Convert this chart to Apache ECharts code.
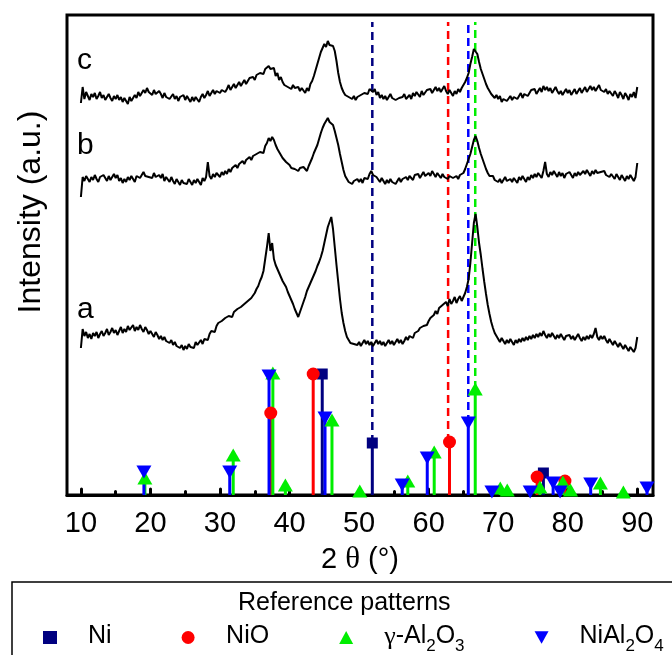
<!DOCTYPE html>
<html><head><meta charset="utf-8">
<script src="https://cdn.jsdelivr.net/npm/echarts@6/dist/echarts.min.js"></script>
<style>html,body{margin:0;padding:0;background:#fff}#c{width:672px;height:655px}</style>
</head><body><div id="c"></div>
<script>
// scan grid (2θ, degrees)
const scanStart = 10, scanStep = 0.25;
// measured intensities (a.u.), one value per 0.25° from 10° to 90° (one row = 5°)
const patternA = [
 147,166,159,163,157,161,156,162,159,163,157,161,164,159,162,166,160,163,167,162,
 165,160,164,168,162,166,163,169,165,167,170,164,168,165,170,166,163,168,165,161,
 164,161,158,163,160,156,159,155,158,154,156,152,155,150,153,149,151,147,150,145,
 149,146,151,148,150,147,153,150,152,155,151,156,158,155,161,164,166,163,169,172,
 170,174,172,177,175,179,181,178,183,181,186,184,188,186,191,189,194,192,197,199,
 202,206,209,214,218,224,236,248,262,244,252,236,230,226,222,218,214,211,208,203,
 199,195,191,186,182,178,183,188,193,198,204,208,212,216,220,224,229,233,238,244,
 252,260,268,273,278,266,248,230,213,196,182,172,164,158,155,152,154,151,153,150,
 153,149,152,155,151,154,150,153,149,152,155,151,154,150,153,149,152,155,151,154,
 150,153,156,152,155,151,154,158,155,159,161,157,162,160,164,167,165,169,171,170,
 174,177,175,180,184,181,187,185,190,188,193,189,196,191,194,198,192,196,199,194,
 198,202,208,216,232,252,272,281,268,252,240,226,213,201,190,181,173,167,162,159,
 156,153,157,154,151,155,152,156,153,150,155,152,156,153,157,154,158,155,159,156,
 160,157,161,158,162,159,164,160,157,161,158,162,159,156,160,157,161,158,155,159,
 157,160,156,159,155,158,161,157,154,158,155,159,156,160,157,161,167,158,155,159,
 156,159,155,152,156,153,150,154,151,148,152,149,146,150,147,144,148,146,143,147,
 158];
const patternB = [
 298,318,314,319,316,313,318,315,320,316,313,318,316,320,317,314,319,315,318,321,
 317,320,314,317,312,316,313,318,315,319,317,313,319,321,317,320,323,319,321,318,
 320,317,322,318,316,320,317,321,314,318,316,313,318,314,311,316,313,310,315,312,
 314,311,316,313,310,315,312,316,313,310,317,314,318,333,319,316,321,318,322,320,
 318,323,320,324,321,326,323,327,325,330,327,331,329,334,331,335,333,338,335,339,
 337,341,339,343,345,342,349,352,357,354,358,355,350,346,343,340,337,335,333,331,
 330,327,329,326,328,324,327,325,328,326,324,329,333,337,342,346,350,356,362,367,
 371,374,377,373,374,370,364,357,350,341,333,325,319,316,313,315,311,314,312,316,
 313,316,312,317,319,316,321,324,320,322,318,316,313,317,314,311,315,312,316,313,
 315,311,314,317,313,316,314,318,315,319,317,315,320,318,321,317,320,323,319,321,
 322,319,324,321,318,322,320,317,321,318,320,316,319,321,317,315,319,316,320,318,
 322,326,331,336,341,348,355,359,354,347,341,336,331,326,322,319,317,319,315,317,
 313,316,312,315,318,314,312,316,313,317,315,312,318,315,319,316,313,318,315,320,
 317,321,318,322,320,317,324,333,321,318,323,320,324,321,318,323,319,322,317,321,
 319,323,320,317,322,319,323,320,318,324,321,325,322,319,324,321,325,322,320,323,
 321,324,320,322,318,321,319,316,321,318,315,320,317,314,319,316,320,317,314,318,
 332];
const patternC = [
 392,408,396,403,399,395,401,398,402,396,399,403,397,400,395,398,401,397,394,399,
 396,400,395,398,393,397,395,391,398,394,396,400,397,403,399,401,405,402,407,403,
 404,400,405,401,399,404,401,397,402,398,400,396,398,401,396,399,394,398,396,400,
 395,399,397,393,398,394,398,396,393,398,401,397,400,404,399,402,405,401,404,406,
 402,405,407,403,406,410,405,408,411,407,410,413,409,412,415,411,414,417,416,418,
 415,420,418,422,423,421,426,424,429,426,424,427,419,422,415,418,413,410,412,408,
 409,406,410,407,405,408,404,407,405,402,407,404,411,414,419,425,431,437,443,447,
 451,448,454,450,452,449,444,434,422,413,407,403,400,402,398,400,396,399,395,398,
 397,400,398,402,404,401,406,408,403,406,400,403,397,400,396,399,395,398,401,397,
 399,395,393,397,395,398,401,396,398,400,396,402,399,403,401,398,404,400,402,405,
 403,406,402,405,408,404,407,403,406,409,404,401,405,402,399,404,401,406,403,407,
 409,413,417,422,431,438,446,448,441,433,426,421,416,411,407,404,401,399,397,400,
 396,399,393,396,398,394,396,399,395,398,400,396,399,402,397,401,403,399,402,405,
 403,406,401,404,407,403,409,405,408,404,407,402,405,408,404,401,404,400,403,406,
 402,405,400,403,406,401,404,407,402,405,408,403,406,409,405,408,404,407,410,405,
 407,403,406,401,404,402,399,404,401,397,403,400,396,402,399,395,401,398,403,397,
 408];
const curveNames = ['a', 'b', 'c'];

// reference patterns: [2θ, relative height]
const refNi      = [[44.7,121],[51.9,52],[76.5,22]];
const refNiO     = [[37.3,82],[43.4,121],[63.0,53],[75.6,18],[79.6,14]];
const refAl2O3   = [[19.2,17],[31.9,40],[37.6,122],[39.4,10],[46.1,75],[50.1,4],[57.0,14],[60.8,43],[66.7,106],[70.3,7],[71.3,5],[76.0,8],[79.3,13],[80.4,5],[84.7,12],[88.0,3]];
const refNiAl2O4 = [[19.06,23],[31.4,23],[37.05,119],[45.1,77],[56.2,10],[59.8,37],[65.7,72],[69.1,3],[74.6,3],[77.9,12],[78.9,3],[83.3,11],[91.4,7]];
// dashed guide lines: [2θ, starting height]
const guideNi = [[51.9,52]];
const guideNiO = [[62.8,53]];
const guideAl2O3 = [[66.7,106]];
const guideNiAl2O4 = [[65.7,72]];
const guideTop = 473;

const phaseNames = ['Ni', 'NiO', 'γ-Al2O3', 'NiAl2O4'];
const xMajorTicks = [10,20,30,40,50,60,70,80,90];
const xMinorTicks = [15,25,35,45,55,65,75,85];
const xLabel = '2 θ (°)';
const yLabel = 'Intensity (a.u.)';
const legendTitle = 'Reference patterns';

const FONT = "'Liberation Sans', Arial, sans-serif";
const SERIF = "'Liberation Serif', 'DejaVu Serif', serif";
const colors = ['#000080', '#ff0000', '#00ee00', '#0000ff'];
const symbols = ['rect', 'circle', 'triangle', 'path://M0,0L10,0L5,9Z'];
const symSizes = [11, 13, [15,13], [15,13]];
const refs = [refNi, refNiO, refAl2O3, refNiAl2O4];
const guides = [guideNi, guideNiO, guideAl2O3, guideNiAl2O4];

const toXY = arr => arr.map((v, i) => [scanStart + i * scanStep, v]);

const series = [];
guides.forEach((g, k) => {
  series.push({
    type: 'custom', data: g, silent: true, z: 1,
    renderItem(params, api) {
      const p0 = api.coord([api.value(0), api.value(1)]);
      const p1 = api.coord([api.value(0), guideTop]);
      return {type: 'line', shape: {x1: p0[0], y1: p0[1], x2: p1[0], y2: p1[1]},
        style: {stroke: colors[k], lineWidth: 2.5, lineDash: [8, 5]}};
    }
  });
});
[patternA, patternB, patternC].forEach((p, k) => {
  series.push({
    type: 'line', name: curveNames[k], data: toXY(p), showSymbol: false, silent: true,
    lineStyle: {color: '#000', width: 2}, z: 2, animation: false
  });
});
refs.forEach((r, k) => {
  series.push({
    type: 'custom', data: r, silent: true, z: 3,
    renderItem(params, api) {
      const p0 = api.coord([api.value(0), 0]);
      const p1 = api.coord([api.value(0), api.value(1)]);
      return {type: 'line', shape: {x1: p0[0], y1: p0[1], x2: p1[0], y2: p1[1]},
        style: {stroke: colors[k], lineWidth: 3}};
    }
  });
  series.push({
    type: 'scatter', name: phaseNames[k], data: r, symbol: symbols[k], symbolSize: symSizes[k],
    itemStyle: {color: colors[k], opacity: 1}, z: 3, silent: true
  });
});

// legend label: greek letter in serif, digits as subscripts
function legendRich(name) {
  return name.split('').map(ch => {
    if (/\d/.test(ch)) return '{s|' + ch + '}';
    if (ch === 'γ') return '{g|' + ch + '}';
    return '{n|' + ch + '}';
  }).join('');
}

const chart = echarts.init(document.getElementById('c'), null, {renderer: 'canvas'});
const axisCommon = {
  type: 'value', min: 8, max: 92.26, gridIndex: 0, position: 'bottom',
  splitLine: {show: false}
};
chart.setOption({
  backgroundColor: '#fff',
  animation: false,
  grid: {left: 67, right: 19, top: 15, bottom: 160, show: true, borderColor: '#000', borderWidth: 3},
  xAxis: [
    Object.assign({}, axisCommon, {
      axisLine: {show: true, lineStyle: {color: '#000', width: 3}},
      axisTick: {show: true, inside: true, length: 6, customValues: xMajorTicks, lineStyle: {color: '#000', width: 3, cap: 'round'}},
      axisLabel: {show: true, customValues: xMajorTicks, fontSize: 29, color: '#000', fontFamily: FONT, margin: 14},
      name: xLabel.replace('θ', '{t|θ}').replace(/^([^{]+)/, '{n|$1}').replace(/\}([^{}]+)$/, '}{n|$1}'),
      nameLocation: 'middle', nameGap: 49,
      nameTextStyle: {fontSize: 29, color: '#000', fontFamily: FONT,
        rich: {n: {fontSize: 29, fontFamily: FONT, color: '#000'}, t: {fontSize: 31, fontFamily: SERIF, color: '#000'}}}
    }),
    Object.assign({}, axisCommon, {
      axisLine: {show: false},
      axisTick: {show: true, inside: true, length: 3.5, customValues: xMinorTicks, lineStyle: {color: '#000', width: 3, cap: 'round'}},
      axisLabel: {show: false}
    })
  ],
  yAxis: {type: 'value', min: 0, max: 480, show: true,
    axisLine: {show: false}, axisTick: {show: false}, axisLabel: {show: false}, splitLine: {show: false}},
  title: {text: legendTitle, left: 233, top: 586,
    textStyle: {fontSize: 25, fontWeight: 'normal', color: '#000', fontFamily: FONT}},
  legend: {
    data: phaseNames, left: 38, top: 619, itemWidth: 14, itemHeight: 13, itemGap: 70,
    selectedMode: false,
    formatter: legendRich,
    textStyle: {fontSize: 25, color: '#000', fontFamily: FONT, padding: [0, 0, 0, 26],
      rich: {
        n: {fontSize: 25, color: '#000', fontFamily: FONT, verticalAlign: 'top', lineHeight: 27},
        g: {fontSize: 26, color: '#000', fontFamily: SERIF, verticalAlign: 'top', lineHeight: 27},
        s: {fontSize: 17, color: '#000', fontFamily: FONT, verticalAlign: 'top', lineHeight: 17, padding: [14, 0, 0, 0]}
      }}
  },
  graphic: [
    {type: 'rect', shape: {x: 12, y: 582, width: 720, height: 120}, style: {fill: 'none', stroke: '#000', lineWidth: 1.5}, z: 0, silent: true},
    {type: 'text', x: 31, y: 212, rotation: Math.PI / 2, silent: true,
      style: {text: yLabel, fontSize: 32, fontFamily: FONT, fill: '#000', align: 'center', verticalAlign: 'middle'}},
    {type: 'text', x: 77, y: 310, silent: true, style: {text: curveNames[0], fontSize: 30, fontFamily: FONT, fill: '#000', align: 'left', verticalAlign: 'middle'}},
    {type: 'text', x: 77, y: 146, silent: true, style: {text: curveNames[1], fontSize: 30, fontFamily: FONT, fill: '#000', align: 'left', verticalAlign: 'middle'}},
    {type: 'text', x: 77, y: 61, silent: true, style: {text: curveNames[2], fontSize: 30, fontFamily: FONT, fill: '#000', align: 'left', verticalAlign: 'middle'}}
  ],
  series
});
</script></body></html>
